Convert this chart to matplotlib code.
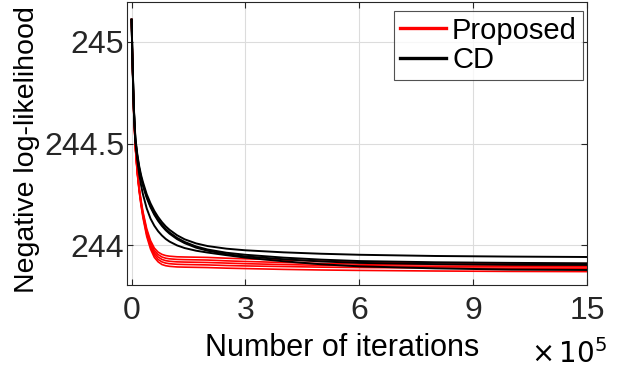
import numpy as np
import matplotlib.pyplot as plt

plt.rcParams['font.family'] = ['Liberation Sans', 'DejaVu Sans']

# iterations (in units of 1e5, as on the axis)
iters = [0, 0.03, 0.06, 0.1, 0.15, 0.2, 0.25, 0.3, 0.4, 0.5, 0.6, 0.7, 0.8, 0.9,
         1.0, 1.2, 1.4, 1.7, 2.0, 2.5, 3, 4, 5, 6, 8, 10, 12]

# CD runs
cd_runs = [
    [245.11, 244.88, 244.68, 244.53, 244.45, 244.39, 244.345, 244.31, 244.25, 244.205,
     244.168, 244.138, 244.113, 244.092, 244.075, 244.048, 244.028, 244.008, 243.995,
     243.982, 243.974, 243.964, 243.957, 243.952, 243.946, 243.943, 243.941],
    [245.11, 244.87, 244.67, 244.52, 244.44, 244.38, 244.335, 244.298, 244.238, 244.192,
     244.155, 244.125, 244.10, 244.079, 244.062, 244.035, 244.015, 243.993, 243.978,
     243.962, 243.952, 243.938, 243.928, 243.921, 243.915, 243.912, 243.910],
    [245.11, 244.87, 244.67, 244.52, 244.435, 244.375, 244.33, 244.292, 244.232, 244.186,
     244.149, 244.119, 244.094, 244.073, 244.056, 244.029, 244.009, 243.987, 243.972,
     243.955, 243.944, 243.930, 243.919, 243.912, 243.906, 243.903, 243.902],
    [245.11, 244.86, 244.66, 244.51, 244.42, 244.35, 244.295, 244.25, 244.18, 244.13,
     244.095, 244.068, 244.047, 244.03, 244.017, 243.998, 243.985, 243.972, 243.963,
     243.950, 243.938, 243.920, 243.905, 243.895, 243.885, 243.879, 243.877],
]

# proposed runs
prop_runs = [
    [245.11, 244.86, 244.65, 244.49, 244.37, 244.285, 244.22, 244.165, 244.08, 244.022,
     243.985, 243.965, 243.954, 243.948, 243.945, 243.942, 243.941, 243.940, 243.939,
     243.935, 243.932, 243.926, 243.921, 243.917, 243.912, 243.909, 243.908],
    [245.11, 244.859, 244.649, 244.487, 244.366, 244.280, 244.213, 244.157, 244.070, 244.011,
     243.973, 243.953, 243.941, 243.935, 243.932, 243.929, 243.928, 243.927, 243.926,
     243.922, 243.919, 243.914, 243.909, 243.906, 243.903, 243.901, 243.900],
    [245.11, 244.859, 244.648, 244.485, 244.362, 244.275, 244.207, 244.150, 244.061, 244.001,
     243.962, 243.941, 243.929, 243.923, 243.920, 243.917, 243.916, 243.915, 243.914,
     243.911, 243.908, 243.904, 243.900, 243.898, 243.895, 243.894, 243.893],
    [245.11, 244.858, 244.646, 244.483, 244.359, 244.270, 244.201, 244.143, 244.052, 243.991,
     243.951, 243.929, 243.917, 243.911, 243.908, 243.905, 243.904, 243.903, 243.902,
     243.899, 243.897, 243.894, 243.891, 243.889, 243.887, 243.886, 243.886],
    [245.11, 244.857, 244.645, 244.480, 244.355, 244.265, 244.195, 244.135, 244.042, 243.980,
     243.939, 243.917, 243.904, 243.898, 243.895, 243.892, 243.891, 243.890, 243.889,
     243.886, 243.884, 243.880, 243.877, 243.875, 243.872, 243.870, 243.869],
]

xticks = [0, 3, 6, 9, 12]
xtick_labels = ['0', '3', '6', '9', '15']
yticks = [244, 244.5, 245]
ytick_labels = ['244', '244.5', '245']

fig = plt.figure(figsize=(6.21, 3.69), dpi=100)
ax = fig.add_axes([0.2045, 0.2276, 0.7407, 0.767])

for y in prop_runs:
    ax.plot(iters, y, color='red', lw=1.2, solid_joinstyle='round')
for y in cd_runs:
    ax.plot(iters, y, color='black', lw=1.4, solid_joinstyle='round')

ax.plot([], [], color='red', lw=2.4, label='Proposed')
ax.plot([], [], color='black', lw=2.4, label='CD')

ax.set_xlim(-0.12, 12)
ax.set_ylim(243.803, 245.197)
ax.set_xticks(xticks)
ax.set_xticklabels(xtick_labels)
ax.set_yticks(yticks)
ax.set_yticklabels(ytick_labels)

ax.grid(True, color='#dcdcdc', lw=0.8)
ax.set_axisbelow(True)
for s in ax.spines.values():
    s.set_color('#262626')
    s.set_linewidth(0.8)
ax.tick_params(direction='in', top=True, right=True, length=4, width=0.8,
               colors='#262626', labelsize=23, labelcolor='#262626')
ax.tick_params(axis='x', pad=8)
ax.tick_params(axis='y', pad=2)

ax.set_xlabel('Number of iterations', fontsize=22, color='black', labelpad=6)
ax.xaxis.set_label_coords(0.467, -0.17)
ax.set_ylabel('Negative log-likelihood', fontsize=20.5, color='black', labelpad=1)
ax.yaxis.set_label_coords(-0.19, 0.48)
fig.text(0.978, 0.0, r'$\times\,10^{5}$', fontsize=20, ha='right', va='bottom',
         math_fontfamily='dejavusans')

leg = ax.legend(loc='upper right', bbox_to_anchor=(0.991, 0.969), fontsize=21,
                frameon=True, fancybox=False, edgecolor='#262626', borderpad=0.2,
                handlelength=1.6, handletextpad=0.2, labelspacing=0.05,
                borderaxespad=0.0)
leg.get_frame().set_linewidth(0.8)

fig.savefig('out.png', dpi=100)
